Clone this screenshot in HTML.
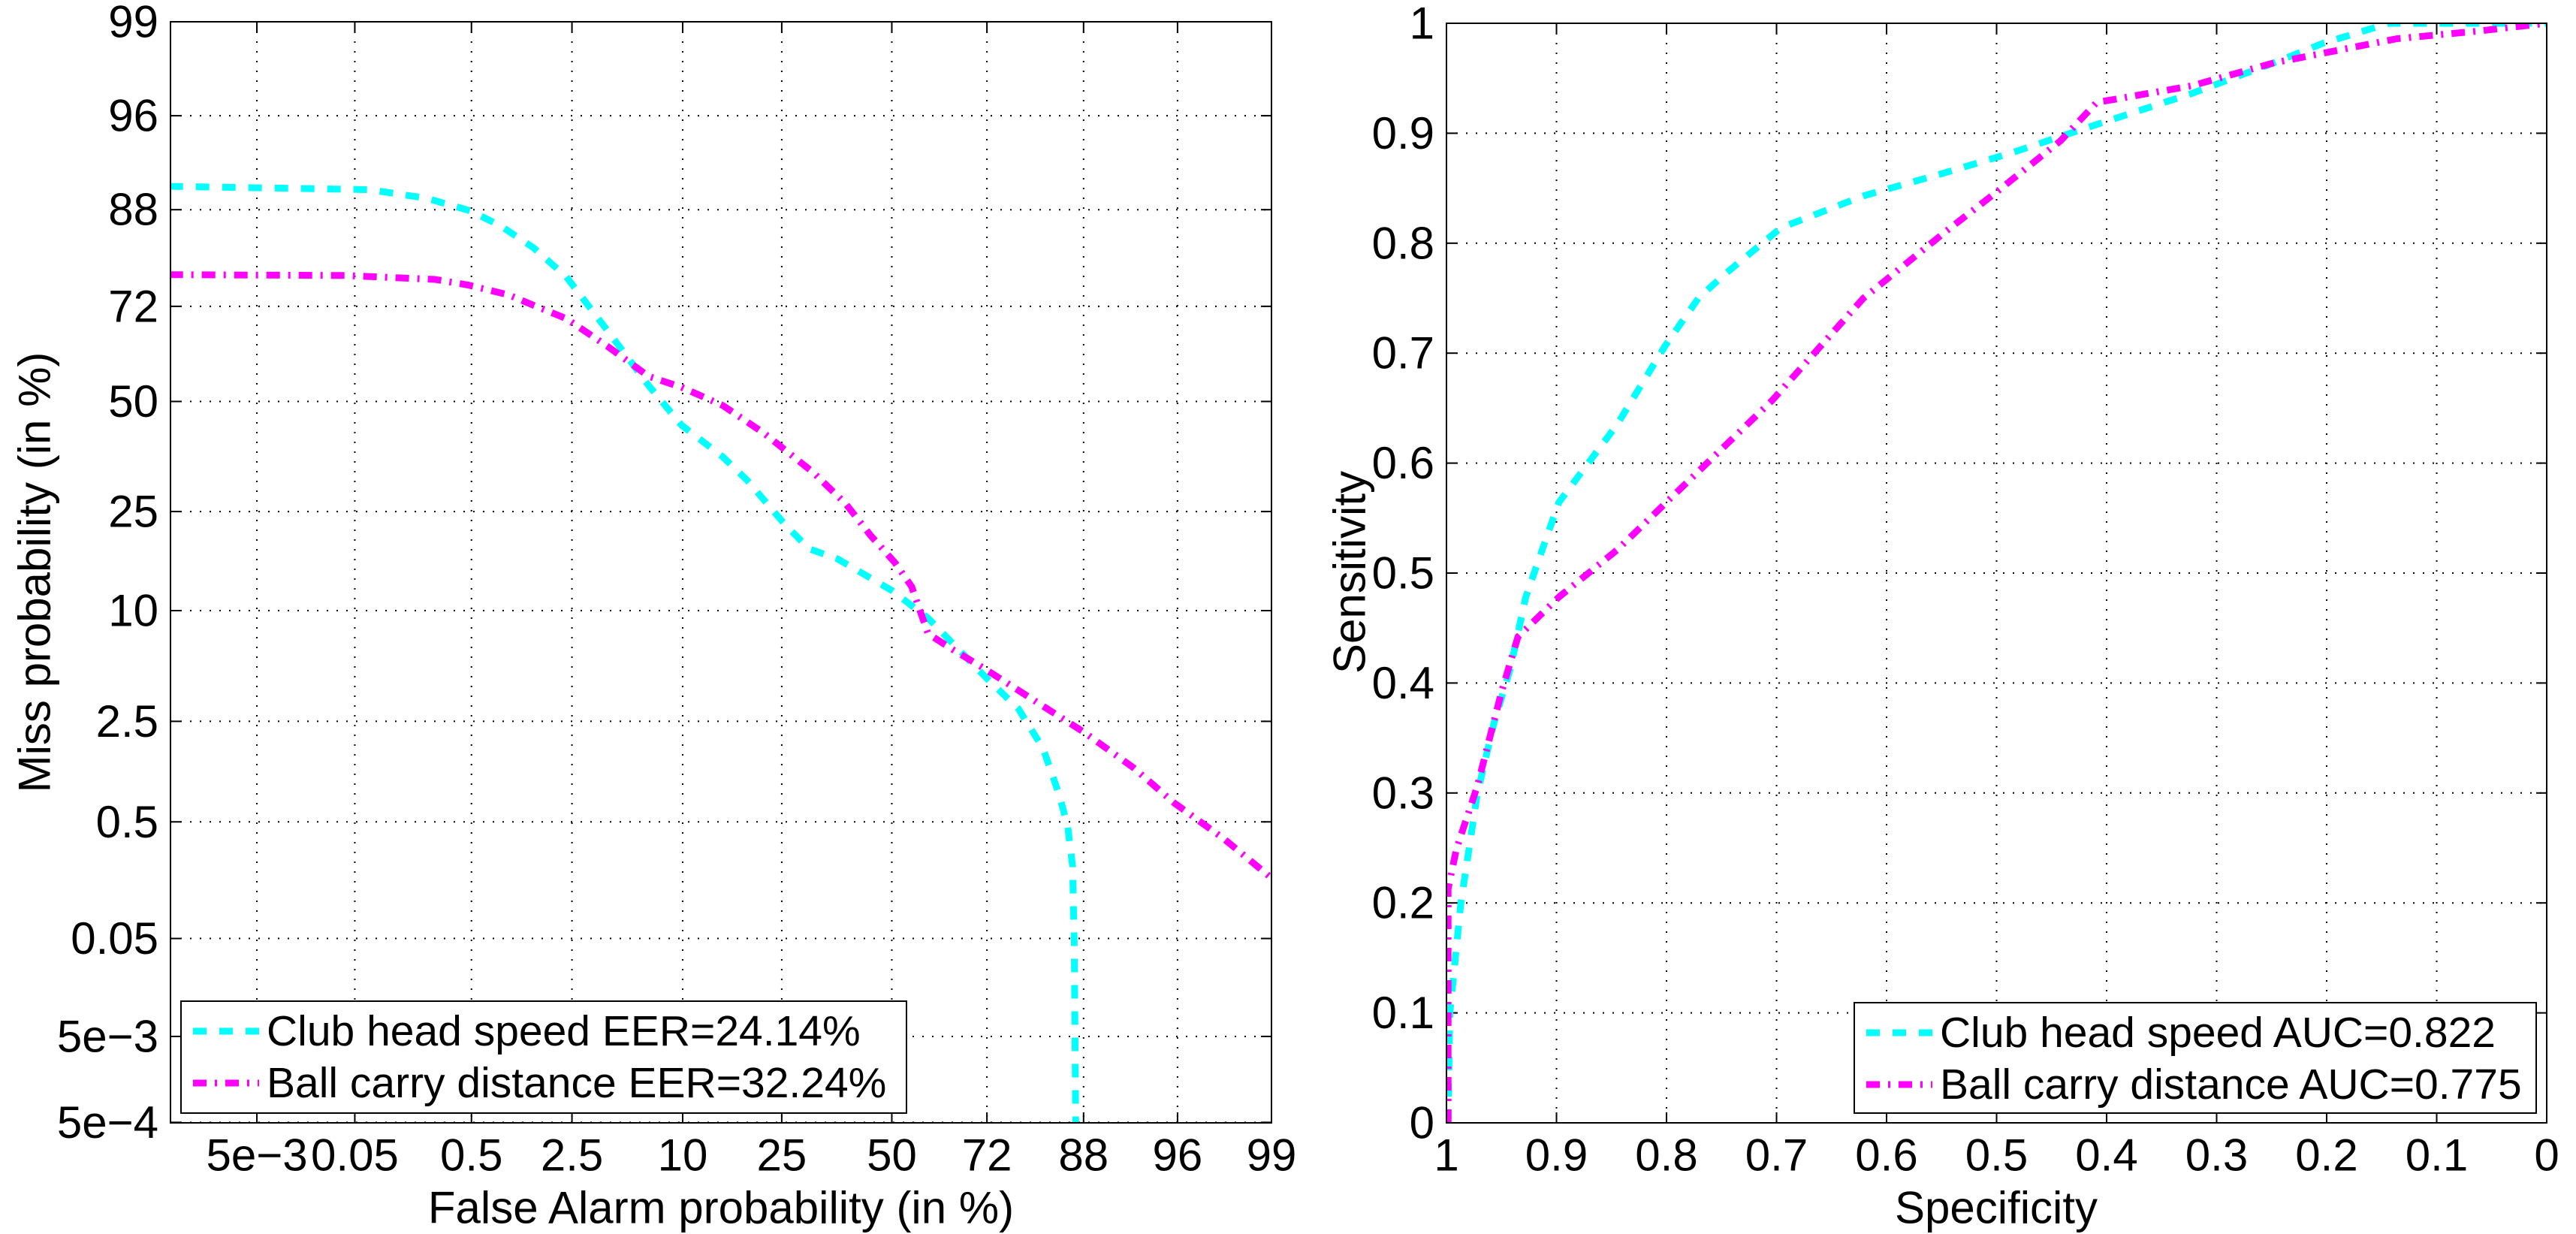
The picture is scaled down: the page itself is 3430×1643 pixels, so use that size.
<!DOCTYPE html>
<html><head><meta charset="utf-8"><style>
html,body{margin:0;padding:0;background:#fff;}
svg{display:block;font-family:"Liberation Sans",sans-serif;}
</style></head><body>
<svg id="fig" width="3430" height="1643" viewBox="0 0 3430 1643" xmlns="http://www.w3.org/2000/svg"></svg>
<script>
// ---------- DET data (normal deviate units) ----------
const detTickLabels = ["5e\u22124","5e\u22123","0.05","0.5","2.5","10","25","50","72","88","96","99"];
const detTickPct = [5e-4,5e-3,0.05,0.5,2.5,10,25,50,72,88,96,99];
const detXTickLabels = ["5e\u22123","0.05","0.5","2.5","10","25","50","72","88","96","99"];
const detXTickPct = [5e-3,0.05,0.5,2.5,10,25,50,72,88,96,99];
const clubFA = [-4.426,-3.202,-2.850,-2.583,-2.397,-2.195,-1.994,-1.742,-1.490,-1.289,-1.037,-0.886,-0.660,-0.509,-0.332,0,0.222,0.574,0.775,0.926,1.027,1.078,1.108,1.118,1.128];
const clubMiss = [1.318,1.298,1.245,1.168,1.076,0.941,0.763,0.434,0.097,-0.145,-0.338,-0.483,-0.748,-0.902,-0.965,-1.158,-1.327,-1.689,-1.882,-2.124,-2.413,-2.606,-2.847,-3.330,-4.6];
const ballFA = [-4.426,-3.353,-2.800,-2.598,-2.346,-2.195,-1.994,-1.742,-1.490,-1.289,-1.037,-0.785,-0.483,-0.282,-0.131,0.020,0.121,0.222,0.373,0.574,0.876,1.178,1.480,1.732,2.034,2.326];
const ballMiss = [0.777,0.772,0.748,0.714,0.652,0.589,0.507,0.338,0.154,0.087,-0.024,-0.193,-0.434,-0.627,-0.820,-0.989,-1.134,-1.423,-1.520,-1.641,-1.834,-2.027,-2.244,-2.461,-2.679,-2.920];
// ---------- ROC data ----------
const rocTicks = [0,0.1,0.2,0.3,0.4,0.5,0.6,0.7,0.8,0.9,1];
const rocTickLabels = ["0","0.1","0.2","0.3","0.4","0.5","0.6","0.7","0.8","0.9","1"];
const clubSpec = [0.9985,0.997,0.987,0.972,0.957,0.942,0.928,0.898,0.845,0.801,0.771,0.748,0.696,0.621,0.547,0.487,0.412,0.323,0.248,0.203,0.143,0];
const clubSens = [0,0.099,0.199,0.299,0.363,0.413,0.478,0.564,0.635,0.707,0.750,0.771,0.814,0.843,0.864,0.882,0.907,0.936,0.964,0.982,1,1];
const ballSpec = [0.9985,0.9985,0.991,0.972,0.950,0.935,0.898,0.845,0.786,0.704,0.621,0.547,0.502,0.442,0.409,0.323,0.248,0.136,0.061,0];
const ballSens = [0,0.213,0.249,0.306,0.392,0.442,0.478,0.521,0.578,0.657,0.750,0.810,0.845,0.893,0.928,0.943,0.964,0.986,0.993,1];

const NS="http://www.w3.org/2000/svg";
const svg=document.getElementById('fig');
function mk(tag,attrs,parent){const e=document.createElementNS(NS,tag);for(const k in attrs)e.setAttribute(k,attrs[k]);(parent||svg).appendChild(e);return e;}
function probit(p){
 const a=[-39.69683028665376,220.9460984245205,-275.9285104469687,138.3577518672690,-30.66479806614716,2.506628277459239];
 const b=[-54.47609879822406,161.5858368580409,-155.6989798598866,66.80131188771972,-13.28068155288572];
 const c=[-0.007784894002430293,-0.3223964580411365,-2.400758277161838,-2.549732539343734,4.374664141464968,2.938163982698783];
 const d=[0.007784695709041462,0.3224671290700398,2.445134137142996,3.754408661907416];
 const pl=0.02425;let q,r;
 if(p<pl){q=Math.sqrt(-2*Math.log(p));return (((((c[0]*q+c[1])*q+c[2])*q+c[3])*q+c[4])*q+c[5])/((((d[0]*q+d[1])*q+d[2])*q+d[3])*q+1);}
 if(p<=1-pl){q=p-0.5;r=q*q;return (((((a[0]*r+a[1])*r+a[2])*r+a[3])*r+a[4])*r+a[5])*q/(((((b[0]*r+b[1])*r+b[2])*r+b[3])*r+b[4])*r+1);}
 q=Math.sqrt(-2*Math.log(1-p));return -(((((c[0]*q+c[1])*q+c[2])*q+c[3])*q+c[4])*q+c[5])/((((d[0]*q+d[1])*q+d[2])*q+d[3])*q+1);
}
const FS=60;
function text(x,y,s,anchor,name,parent,rot,fs){
 const t=mk('text',{x:x,y:y,'font-size':fs||FS,'text-anchor':anchor,'dominant-baseline':'central',fill:'#000'},parent);
 if(rot)t.setAttribute('transform','rotate(-90 '+x+' '+y+')');
 
 
 t.textContent=s;return t;
}
function axesFrame(L,T,R,B,name,xs,ys){
 const g=mk('g',{});
 
 
 mk('rect',{x:L,y:T,width:R-L,height:B-T,fill:'#fff',stroke:'none'},g);
 xs.forEach(x=>{
  const gl=mk('line',{x1:x,y1:T,x2:x,y2:B,stroke:'#000','stroke-width':2,'stroke-dasharray':'2 11'},g);
  
  mk('line',{x1:x,y1:B,x2:x,y2:B-14,stroke:'#000','stroke-width':2},g);
  mk('line',{x1:x,y1:T,x2:x,y2:T+14,stroke:'#000','stroke-width':2},g);
 });
 ys.forEach(y=>{
  const gl=mk('line',{x1:L,y1:y,x2:R,y2:y,stroke:'#000','stroke-width':2,'stroke-dasharray':'2 11'},g);
  
  mk('line',{x1:L,y1:y,x2:L+14,y2:y,stroke:'#000','stroke-width':2},g);
  mk('line',{x1:R,y1:y,x2:R-14,y2:y,stroke:'#000','stroke-width':2},g);
 });
 return g;
}
function series(xs,ys,fx,fy,color,dash,name,clip){
 let d='';for(let i=0;i<xs.length;i++){d+=(i?'L':'M')+fx(xs[i]).toFixed(1)+' '+fy(ys[i]).toFixed(1);}
 const p=mk('path',{d:d,fill:'none',stroke:color,'stroke-width':9,'stroke-dasharray':dash,'clip-path':'url(#'+clip+')','stroke-linejoin':'round'});
 
 
}
function legend(x,y,w,h,items,name){
 const g=mk('g',{});
 
 
 mk('rect',{x:x,y:y,width:w,height:h,fill:'#fff',stroke:'#000','stroke-width':2},g);
 items.forEach((it,i)=>{
  const cy=y+40+i*69;
  const ln=mk('line',{x1:x+16,y1:cy,x2:x+104,y2:cy,stroke:it.c,'stroke-width':9,'stroke-dasharray':it.d},g);
  
  text(x+114,cy,it.t,'start','legend-entry-'+(i+1),g,false,57);
 });
}
const defs=mk('defs',{});
const dL=227,dR=1693,dT=29,dB=1495,dMin=-4.42,dMax=probit(0.99);
const dx=v=>dL+(v-dMin)/(dMax-dMin)*(dR-dL);
const dy=v=>dB-(v-dMin)/(dMax-dMin)*(dB-dT);
const c1=mk('clipPath',{id:'clipDet'},defs);mk('rect',{x:dL,y:dT,width:dR-dL,height:dB-dT},c1);
axesFrame(dL,dT,dR,dB,'det-axes',detXTickPct.map(p=>dx(probit(p/100))),detTickPct.map(p=>dy(probit(p/100))));
series(clubFA,clubMiss,dx,dy,'#00ffff','18 17','det-club-head-speed','clipDet');
series(ballFA,ballMiss,dx,dy,'#ff00ff','18 11 3 11','det-ball-carry-distance','clipDet');
mk('rect',{x:dL,y:dT,width:dR-dL,height:dB-dT,fill:'none',stroke:'#000','stroke-width':2});
detTickPct.forEach((p,i)=>text(dL-16,dy(probit(p/100)),detTickLabels[i],'end','det-y-tick-label'));
detXTickPct.forEach((p,i)=>text(dx(probit(p/100)),1538,detXTickLabels[i],'middle','det-x-tick-label'));
text(960,1608,'False Alarm probability (in %)','middle','det-x-axis-title');
text(46,762,'Miss probability (in %)','middle','det-y-axis-title',null,true);
legend(241,1333,966,149,[{c:'#00ffff',d:'18 17',t:'Club head speed EER=24.14%'},{c:'#ff00ff',d:'18 11 3 11',t:'Ball carry distance EER=32.24%'}],'det-legend');
const rL=1926,rR=3391,rT=31,rB=1495;
const rx=v=>rR-v*(rR-rL);
const ry=v=>rB-v*(rB-rT);
const c2=mk('clipPath',{id:'clipRoc'},defs);mk('rect',{x:rL,y:rT,width:rR-rL,height:rB-rT},c2);
axesFrame(rL,rT,rR,rB,'roc-axes',rocTicks.map(rx),rocTicks.map(ry));
series(clubSpec,clubSens,rx,ry,'#00ffff','18 17','roc-club-head-speed','clipRoc');
series(ballSpec,ballSens,rx,ry,'#ff00ff','18 11 3 11','roc-ball-carry-distance','clipRoc');
mk('rect',{x:rL,y:rT,width:rR-rL,height:rB-rT,fill:'none',stroke:'#000','stroke-width':2});
rocTicks.forEach((v,i)=>text(rL-16,ry(v),rocTickLabels[i],'end','roc-y-tick-label'));
rocTicks.forEach((v,i)=>text(rx(v),1538,rocTickLabels[i],'middle','roc-x-tick-label'));
text(2658,1608,'Specificity','middle','roc-x-axis-title');
text(1797,762,'Sensitivity','middle','roc-y-axis-title',null,true);
legend(2469,1335,908,147,[{c:'#00ffff',d:'18 17',t:'Club head speed AUC=0.822'},{c:'#ff00ff',d:'18 11 3 11',t:'Ball carry distance AUC=0.775'}],'roc-legend');
</script>
</body></html>
